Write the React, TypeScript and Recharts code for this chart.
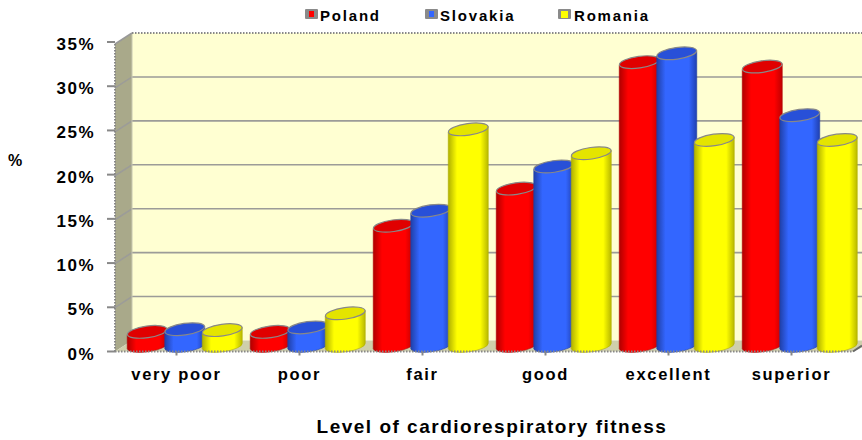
import React from 'react';
import { BarChart, Bar, XAxis, YAxis, Customized, Legend } from 'recharts';

const categories = ['very poor', 'poor', 'fair', 'good', 'excellent', 'superior'];
const poland = [1.6, 1.6, 13.6, 17.8, 32.1, 31.6];
const slovakia = [1.9, 2.1, 15.3, 20.3, 33.1, 26.1];
const romania = [1.8, 3.7, 24.5, 21.8, 23.3, 23.3];
const yTicks = [0, 5, 10, 15, 20, 25, 30, 35];
const data = categories.map((name, i) => ({ name, Poland: poland[i], Slovakia: slovakia[i], Romania: romania[i] }));

const FONT = '"Liberation Sans", Arial, sans-serif';
const W = 862, H = 440;
const L = 115, T = 44, R = 853, B = 351.5;
const DX = 17, DY = -11;
const LEGEND_H = 32;
const colors: Record<string, { id: string; top: string; stops: string[] }> = {
  Poland: { id: 'gr', top: '#e00000', stops: ['#b00000', '#ff0000', '#ff0000', '#c00000'] },
  Slovakia: { id: 'gb', top: '#2850d8', stops: ['#2040a8', '#3366ff', '#3366ff', '#2040b0'] },
  Romania: { id: 'gy', top: '#e4e400', stops: ['#b0b000', '#ffff00', '#ffff00', '#b8b800'] },
};

const Walls = () => {
  const yOf = (v: number) => B - ((B - T) * v) / 35;
  return (
    <g>
      <polygon points={`${L},${T} ${L + DX},${T + DY} ${L + DX},${B + DY} ${L},${B}`} fill="#a9a98a" />
      <rect x={L + DX} y={T + DY} width={W - L - DX} height={B - T} fill="#ffffd2" />
      <polygon points={`${L},${B} ${L + DX},${B + DY} ${W},${B + DY} ${W},${B - 4} ${R},${B}`} fill="#cfcfac" />
      {yTicks.slice(1, -1).map((v) => (
        <polyline key={v} points={`${L},${yOf(v)} ${L + DX},${yOf(v) + DY} ${W},${yOf(v) + DY}`} fill="none" stroke="#9c9c98" strokeWidth={1.6} />
      ))}
      <line x1={L + DX} x2={L + DX} y1={T + DY} y2={B + DY} stroke="#c8c8b0" />
      <polyline points={`${L},${T} ${L + DX},${T + DY}`} fill="none" stroke="#999" strokeWidth={1.5} />
      <line x1={L + DX} x2={W} y1={T + DY} y2={T + DY} stroke="#888" strokeWidth={2} strokeDasharray="1.5 1.5" />
      <line x1={L} x2={L} y1={T} y2={B} stroke="#888" strokeWidth={2} strokeDasharray="1.5 1.5" />
      <line x1={R} x2={W} y1={B} y2={B - 6} stroke="#666" strokeWidth={2} />
    </g>
  );
};

const Cylinder = (props: any) => {
  const { x, y, width, height, dataKey } = props;
  const c = colors[dataKey];
  const r = 20;
  const cx = x + width / 2 + 8.5;
  const tilt = 2.8;
  const ry = 5.8;
  const topY = y + DY / 2;
  const botY = y + height + DY / 2;
  const body = `M${cx - r},${topY + tilt} L${cx - r},${botY + tilt} A${r},${ry} -8 0 0 ${cx + r},${botY - tilt} L${cx + r},${topY - tilt} Z`;
  return (
    <g>
      <path d={body} fill={`url(#${c.id})`} stroke={c.stops[0]} strokeWidth={0.6} />
      <ellipse cx={cx} cy={topY} rx={r} ry={ry} transform={`rotate(-8 ${cx} ${topY})`} fill={c.top} stroke="#888" strokeWidth={1.2} />
    </g>
  );
};

const LegendBox = () => (
  <div style={{ position: 'relative', width: W, height: 30 }}>
    {[
      ['Poland', 305, 320, 5, 6],
      ['Slovakia', 425, 440, 5, 6],
      ['Romania', 558, 574, 7, 7],
    ].map(([name, mx, tx, iw, ih]: any) => (
      <React.Fragment key={name}>
        <span style={{ position: 'absolute', left: mx, top: 9, width: 13, height: 10, background: '#8a8a8a', borderRadius: 1 }} />
        <span style={{ position: 'absolute', left: mx + (13 - iw) / 2, top: 9 + (10 - ih) / 2, width: iw, height: ih, background: colors[name].stops[1] }} />
        <span style={{ position: 'absolute', left: tx, top: 7, font: `bold 15px ${FONT}`, letterSpacing: 1.8, color: '#000' }}>{name}</span>
      </React.Fragment>
    ))}
  </div>
);

export default function App() {
  return (
    <div style={{ position: 'absolute', left: 0, top: 0, width: W, height: H, background: '#fff' }}>
      <BarChart
        width={W}
        height={H}
        data={data}
        barSize={37.5}
        barGap={0}
        margin={{ left: L - 60, top: T - LEGEND_H, right: W - R, bottom: H - B - 60 }}
      >
        <defs>
          {Object.values(colors).map((c) => (
            <linearGradient key={c.id} id={c.id} x1="0" x2="1" y1="0" y2="0">
              <stop offset="0" stopColor={c.stops[0]} />
              <stop offset="0.22" stopColor={c.stops[1]} />
              <stop offset="0.8" stopColor={c.stops[2]} />
              <stop offset="1" stopColor={c.stops[3]} />
            </linearGradient>
          ))}
        </defs>
        <Customized component={Walls} />
        <XAxis
          dataKey="name"
          height={60}
          axisLine={{ stroke: '#888', strokeWidth: 2, strokeDasharray: '1.5 1.5' }}
          tickLine={{ stroke: '#888', strokeWidth: 2 }}
          tickSize={4}
          tick={{ fill: '#000', fontFamily: FONT, fontWeight: 700, fontSize: 16.5, letterSpacing: 1.7, dy: 11 }}
          interval={0}
          label={{ value: 'Level of cardiorespiratory fitness', position: 'insideBottom', dx: 8, dy: 26, fill: '#000', fontFamily: FONT, fontWeight: 700, fontSize: 19, letterSpacing: 1.5 }}
        />
        <YAxis
          domain={[0, 35]}
          ticks={yTicks}
          width={60}
          tickFormatter={(v) => `${v}%`}
          axisLine={false}
          tickLine={{ stroke: '#888', strokeWidth: 2 }}
          tickSize={8}
          tick={{ fill: '#000', fontFamily: FONT, fontWeight: 700, fontSize: 17, letterSpacing: 1.5, dx: -10, dy: 2 }}
          label={{ value: '%', position: 'insideLeft', dx: -52, dy: -36, fill: '#000', fontFamily: FONT, fontWeight: 700, fontSize: 16 }}
        />
        <Legend verticalAlign="top" wrapperStyle={{ position: 'absolute', left: 0, top: 0, width: W }} content={() => <LegendBox />} />
        <Bar dataKey="Poland" isAnimationActive={false} shape={Cylinder} />
        <Bar dataKey="Slovakia" isAnimationActive={false} shape={Cylinder} />
        <Bar dataKey="Romania" isAnimationActive={false} shape={Cylinder} />
      </BarChart>
    </div>
  );
}
